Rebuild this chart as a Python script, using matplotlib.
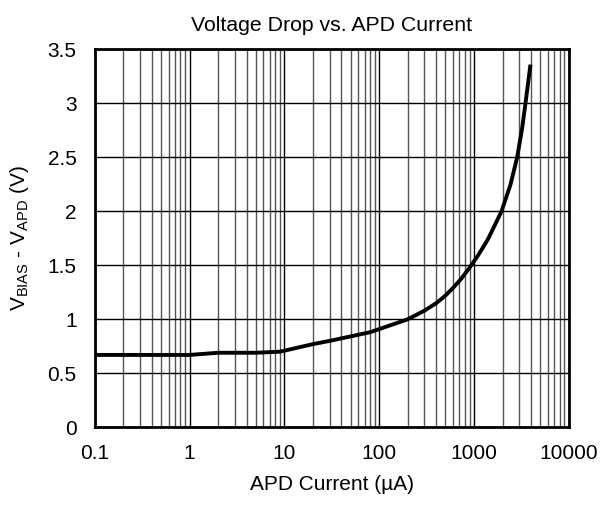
import matplotlib
matplotlib.use("Agg")
import matplotlib.pyplot as plt
from matplotlib.ticker import LogLocator, NullFormatter

plt.rcParams['font.family'] = ['Liberation Sans', 'DejaVu Sans']
plt.rcParams['mathtext.fontset'] = 'custom'
plt.rcParams['mathtext.rm'] = 'Liberation Sans'

current_uA = [0.1, 1, 2, 5, 9, 20, 30, 80, 200, 300, 400, 500, 600, 740, 900, 1100, 1400, 1950, 2430, 2850, 3220, 3490, 3720, 3940]
voltage_drop = [0.67, 0.67, 0.69, 0.69, 0.70, 0.77, 0.80, 0.88, 1.00, 1.08, 1.15, 1.22, 1.29, 1.38, 1.48, 1.59, 1.74, 2.00, 2.25, 2.50, 2.77, 3.00, 3.19, 3.36]
x_ticks = [0.1, 1, 10, 100, 1000, 10000]
x_tick_labels = ['0.1', '1', '10', '100', '1000', '10000']
y_ticks = [0, 0.5, 1, 1.5, 2, 2.5, 3, 3.5]
y_tick_labels = ['0', '0.5', '1', '1.5', '2', '2.5', '3', '3.5']

fig = plt.figure(figsize=(6, 5.05), dpi=100)
ax = fig.add_axes([0.158, 0.154, 0.79, 0.748])
ax.set_xscale('log')
ax.set_xlim(0.1, 10000)
ax.set_ylim(0, 3.5)
ax.set_xticks(x_ticks)
ax.set_xticklabels(x_tick_labels)
ax.xaxis.set_minor_locator(LogLocator(base=10, subs=range(2, 10), numticks=20))
ax.xaxis.set_minor_formatter(NullFormatter())
ax.set_yticks(y_ticks)
ax.set_yticklabels(y_tick_labels)
ax.grid(True, which='major', color='black', linewidth=1.0)
ax.grid(True, which='minor', axis='x', color='#555555', linewidth=1.0)
ax.tick_params(axis='y', which='both', length=0, labelsize=15, pad=13)
ax.tick_params(axis='x', which='both', length=0, labelsize=15, pad=12)
for s in ax.spines.values():
    s.set_linewidth(2)
ax.plot(current_uA, voltage_drop, color='black', linewidth=2.8, zorder=5,
        solid_joinstyle='round', solid_capstyle='butt')
ax.set_title('Voltage Drop vs. APD Current', fontsize=15.3, pad=13)
ax.set_xlabel('APD Current (µA)', fontsize=15, labelpad=9)
ax.set_ylabel(r'V$_{\mathregular{BIAS}}$ - V$_{\mathregular{APD}}$ (V)', fontsize=15, labelpad=12)
fig.savefig('out.png', dpi=100)
